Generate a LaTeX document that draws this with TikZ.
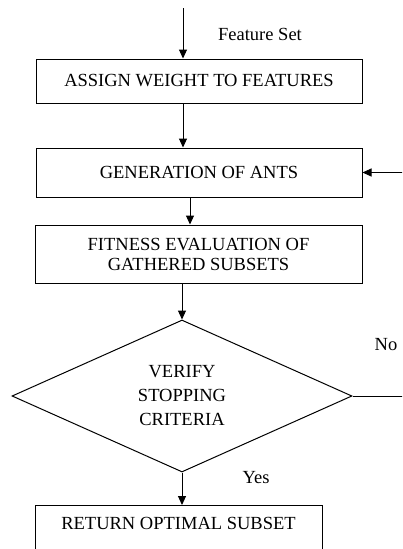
\documentclass[tikz,border=0pt]{standalone}
\usepackage{fontspec}
\setmainfont{Liberation Serif}
\usetikzlibrary{shapes.geometric,arrows.meta}

\begin{document}
\begin{tikzpicture}[x=1pt,y=-1pt,>={Triangle[length=9pt,width=8pt]},line width=1pt,
    font=\fontsize{18.5}{20}\selectfont,
    stepbox/.style={draw,rectangle,inner sep=0pt,align=center},
    checkbox/.style={draw,diamond,inner sep=0pt,align=center,minimum width=340pt,minimum height=152pt}]
\useasboundingbox(0,0)rectangle(402,549);
\clip(0,0)rectangle(402,549);
\coordinate(in)at(183,8);
\node[stepbox,minimum width=326pt,minimum height=44pt](assign)at(199,81){ASSIGN WEIGHT TO FEATURES};
\node[stepbox,minimum width=326pt,minimum height=49pt](gen)at(199,172.5){GENERATION OF ANTS};
\node[stepbox,minimum width=327pt,minimum height=58pt](fit)at(198.5,254){FITNESS EVALUATION OF\\GATHERED SUBSETS};
\node[checkbox,font=\fontsize{18.5}{24}\selectfont](verify)at(182,396){VERIFY\\STOPPING\\CRITERIA};
\node[stepbox,anchor=north,minimum width=287pt,text height=24pt,text depth=36pt](ret)at(178.5,505){RETURN OPTIMAL SUBSET};
% labels
\node(fs)at(260,34){Feature Set};
\node(no)at(386,345){No};
\node(yes)at(256,478){Yes};
% connectors
\draw[->](in)--(in|-assign.north);
\draw[->](assign.south-|in)--(gen.north-|in);
\draw[->]([xshift=-9pt]gen.south)--([xshift=-8.5pt]fit.north);
\draw[->](fit.south-|verify.north)--(verify.north);
\draw[->](verify.south)--(verify.south|-ret.north);
\draw[->](verify.east)--++(70,0)|-(gen.east);
\end{tikzpicture}
\end{document}
